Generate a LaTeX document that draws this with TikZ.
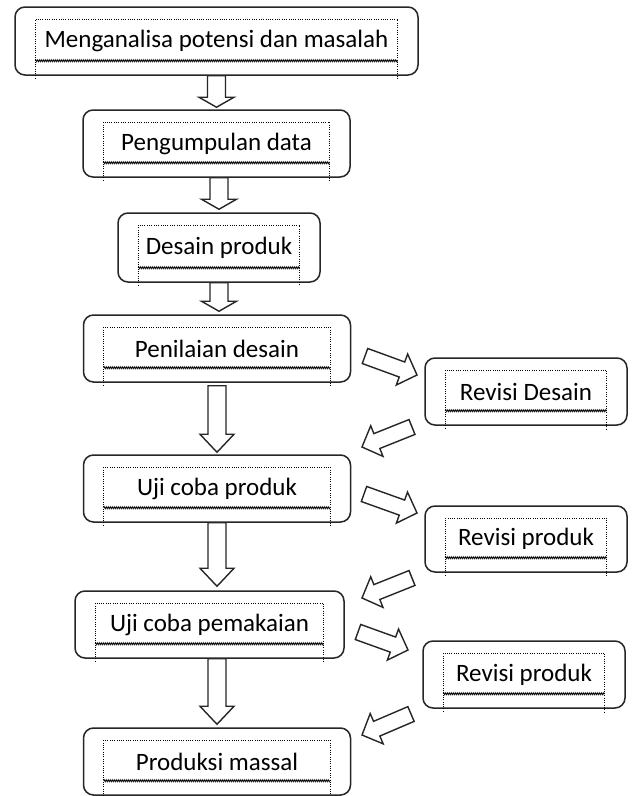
\documentclass[tikz,border=0pt]{standalone}
\usepackage{fontspec}
\setmainfont{Carlito}
\usetikzlibrary{calc,decorations.pathmorphing}
\begin{document}
\begin{tikzpicture}[x=1pt,y=-1pt,
  stage/.style={draw=black!85,rounded corners=10pt,line width=1.5pt,inner sep=0pt,font=\fontsize{25}{30}\selectfont},
  frame/.style={line width=1pt,dash pattern=on 1pt off 1.3pt},
  wave/.style={line width=0.8pt,decorate,decoration={zigzag,amplitude=1pt,segment length=2pt}},
  blockarrow/.style n args={3}{draw=black!85,line width=1.4pt,to path={
    ($(\tikztostart)!#1!90:(\tikztotarget)$)
    -- ($($(\tikztotarget)!#3!(\tikztostart)$)!#1!90:(\tikztotarget)$)
    -- ($($(\tikztotarget)!#3!(\tikztostart)$)!#2!90:(\tikztotarget)$)
    -- (\tikztotarget)
    -- ($($(\tikztotarget)!#3!(\tikztostart)$)!#2!-90:(\tikztotarget)$)
    -- ($($(\tikztotarget)!#3!(\tikztostart)$)!#1!-90:(\tikztotarget)$)
    -- ($(\tikztostart)!#1!-90:(\tikztotarget)$) -- cycle}},
  smallarrow/.style={blockarrow={9pt}{17.5pt}{10pt}},
  bigarrow/.style={blockarrow={9pt}{17pt}{18pt}},
  sidearrow/.style={blockarrow={8pt}{16.5pt}{16pt}}]
\path[use as bounding box,fill=white] (0,0) rectangle (632,796);
% main steps
\node[stage,minimum width=403pt,minimum height=68pt] (b1) at (216.5,41) {Menganalisa potensi dan masalah};
\node[stage,minimum width=267pt,minimum height=67pt] (b2) at (216.5,143.5) {Pengumpulan data};
\node[stage,minimum width=202pt,minimum height=69pt] (b3) at (219,247.5) {Desain produk};
\node[stage,minimum width=267pt,minimum height=67pt] (b4) at (217,348.5) {Penilaian desain};
\node[stage,minimum width=267pt,minimum height=67pt] (b5) at (217,488.5) {Uji coba produk};
\node[stage,minimum width=269pt,minimum height=67pt] (b6) at (209.5,624.5) {Uji coba pemakaian};
\node[stage,minimum width=267pt,minimum height=67pt] (b7) at (217,761.5) {Produksi massal};
% revisions
\node[stage,minimum width=202pt,minimum height=67pt] (r1) at (526,391.5) {Revisi Desain};
\node[stage,minimum width=202pt,minimum height=66pt] (r2) at (526,539) {Revisi produk};
\node[stage,minimum width=202pt,minimum height=67pt] (r3) at (524,674.5) {Revisi produk};
% dotted text frames
\foreach \n in {b1,b2,b3,b4,b5,b6,b7,r1,r2,r3} {
  \draw[frame] ($(\n.south west)+(21,3)$) |- ($(\n.north east)+(-21,13)$) -- ($(\n.south east)+(-21,3)$);
  \draw[wave] ($(\n.south west)+(21,-15)$) -- ($(\n.south east)+(-21,-15)$);
}
% down arrows
\draw[smallarrow] (b1.south) to ($(b2.north)+(0,-2)$);
\draw[smallarrow] (b3.north |- b2.south) to ($(b3.north)+(0,-3)$);
\draw[smallarrow] (b3.south) to ($(b3.south |- b4.north)+(0,-3)$);
\draw[bigarrow] ($(b4.south)+(0,3)$) to ($(b5.north)+(0,-2)$);
\draw[bigarrow] (b5.south) to ($(b5.south |- b6.north)+(0,-4)$);
\draw[bigarrow] (b5.south |- b6.south) to ($(b7.north)+(0,-3)$);
% side arrows
\coordinate (s1) at (365,356); \coordinate (e1) at (417,375);
\coordinate (s2) at (412,427); \coordinate (e2) at (362,447);
\coordinate (s3) at (364,494); \coordinate (e3) at (417,513);
\coordinate (s4) at (412,578); \coordinate (e4) at (362,598);
\coordinate (s5) at (358,632); \coordinate (e5) at (408,650);
\coordinate (s6) at (411,714); \coordinate (e6) at (362,735);
\draw[sidearrow] (s1) to (e1);
\draw[sidearrow] (s2) to (e2);
\draw[sidearrow] (s3) to (e3);
\draw[sidearrow] (s4) to (e4);
\draw[sidearrow] (s5) to (e5);
\draw[sidearrow] (s6) to (e6);
\end{tikzpicture}
\end{document}
